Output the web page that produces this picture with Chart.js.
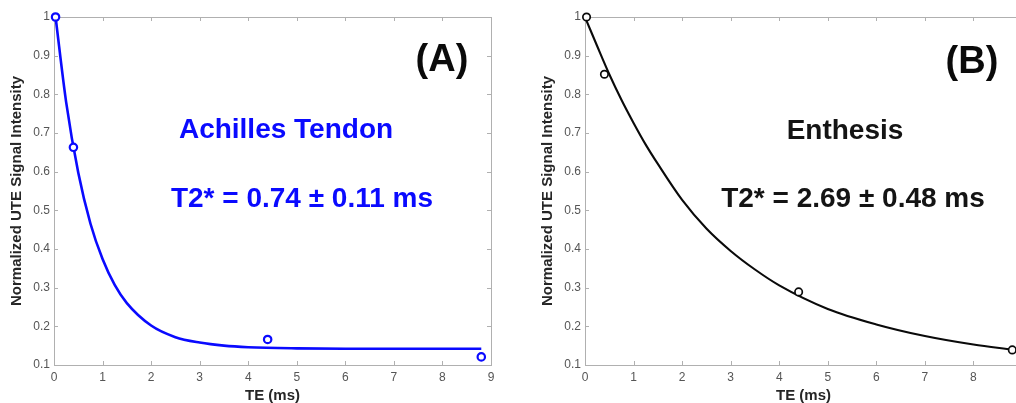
<!DOCTYPE html>
<html>
<head>
<meta charset="utf-8">
<script src="https://cdn.jsdelivr.net/npm/chart.js@4.4.0/dist/chart.umd.min.js"></script>
<style>
  html, body { margin: 0; padding: 0; background: #fff; overflow: hidden; width: 1016px; height: 403px; }
  .panel { position: absolute; top: 0; width: 549px; height: 403px; }
</style>
</head>
<body>
<div class="panel" style="left:0"><canvas id="chartA" width="549" height="403"></canvas></div>
<div class="panel" style="left:531px"><canvas id="chartB" width="549" height="403"></canvas></div>
<script>
// measured echo times (ms) and normalised signal
const teMeasured = [0.032, 0.4, 4.4, 8.8];
const tendonSignal = [1.0, 0.663, 0.166, 0.121];
const enthesisSignal = [1.0, 0.852, 0.289, 0.139];

// fitted decay curves
const teFit = [0.032, 0.25, 0.5, 0.75, 1, 1.25, 1.5, 2, 2.5, 3, 3.5, 4, 5, 6, 7, 8, 8.8];
const tendonFit = [1.0, 0.78, 0.597, 0.466, 0.374, 0.307, 0.26, 0.202, 0.172, 0.158, 0.15, 0.146, 0.143, 0.142, 0.142, 0.142, 0.142];
const enthesisFit = [0.99, 0.925, 0.852, 0.786, 0.726, 0.67, 0.62, 0.527, 0.453, 0.395, 0.347, 0.306, 0.245, 0.205, 0.175, 0.153, 0.14];

const xRange = [0, 9];
const yRange = [0.1, 1];

const FONT = "'Liberation Sans', Arial, sans-serif";
const axisColor = '#b0b0b0';
const tickColor = '#555555';

function toPoints(xs, ys) {
    return xs.map((x, i) => ({ x: x, y: ys[i] }));
}

// MATLAB style box with inward ticks
const boxPlugin = {
    id: 'box',
    beforeDatasetsDraw(chart) {
        const { ctx, chartArea: a, scales: { x, y } } = chart;
        const len = 4;
        ctx.save();
        ctx.strokeStyle = axisColor;
        ctx.lineWidth = 1;
        ctx.strokeRect(a.left + 0.5, a.top + 0.5, a.right - a.left, a.bottom - a.top);
        ctx.beginPath();
        x.ticks.forEach(t => {
            const px = Math.round(x.getPixelForValue(t.value)) + 0.5;
            ctx.moveTo(px, a.bottom); ctx.lineTo(px, a.bottom - len);
            ctx.moveTo(px, a.top); ctx.lineTo(px, a.top + len);
        });
        y.ticks.forEach(t => {
            const py = Math.round(y.getPixelForValue(t.value)) + 0.5;
            ctx.moveTo(a.left, py); ctx.lineTo(a.left + len, py);
            ctx.moveTo(a.right, py); ctx.lineTo(a.right - len, py);
        });
        ctx.stroke();
        ctx.restore();
    }
};

const labelPlugin = {
    id: 'labels',
    afterDraw(chart, args, opts) {
        const ctx = chart.ctx;
        ctx.save();
        ctx.textAlign = 'center';
        ctx.textBaseline = 'alphabetic';
        (opts.items || []).forEach(it => {
            ctx.fillStyle = it.color;
            ctx.font = 'bold ' + it.size + 'px ' + FONT;
            ctx.fillText(it.text, it.x, it.y);
        });
        ctx.restore();
    }
};

function makeChart(id, measured, fit, color, lineWidth, markerBorder, labels) {
    const ctx = document.getElementById(id).getContext('2d');
    return new Chart(ctx, {
        type: 'line',
        data: {
            datasets: [
                {
                    label: 'Measured',
                    data: toPoints(teMeasured, measured),
                    showLine: false,
                    pointRadius: 3.7,
                    pointBorderWidth: markerBorder,
                    pointBorderColor: color,
                    pointBackgroundColor: '#fff',
                    clip: false
                },
                {
                    label: 'Fit',
                    data: toPoints(teFit, fit),
                    borderColor: color,
                    borderWidth: lineWidth,
                    pointRadius: 0,
                    cubicInterpolationMode: 'monotone',
                    fill: false,
                    clip: false
                }
            ]
        },
        options: {
            responsive: false,
            animation: false,
            layout: { padding: { top: 17, right: 58, left: 0, bottom: 0 } },
            scales: {
                x: {
                    type: 'linear',
                    min: xRange[0],
                    max: xRange[1],
                    afterFit: s => { s.height = 38; },
                    ticks: { stepSize: 1, color: tickColor, padding: 5, font: { size: 12, family: FONT } },
                    grid: { display: false, drawTicks: false },
                    border: { display: false },
                    title: {
                        display: true,
                        text: 'TE (ms)',
                        color: '#262626',
                        padding: { top: 0, bottom: 0 },
                        font: { size: 15, weight: 'bold', family: FONT, lineHeight: 1 }
                    }
                },
                y: {
                    min: yRange[0],
                    max: yRange[1],
                    afterFit: s => { s.width = 54; },
                    ticks: {
                        stepSize: 0.1,
                        color: tickColor,
                        padding: 4,
                        font: { size: 12, family: FONT },
                        callback: v => Number(v.toFixed(1)).toString()
                    },
                    grid: { display: false, drawTicks: false },
                    border: { display: false },
                    title: {
                        display: true,
                        text: 'Normalized UTE Signal Intensity',
                        color: '#262626',
                        padding: { top: 8, bottom: 0 },
                        font: { size: 15, weight: 'bold', family: FONT, lineHeight: 1.2 }
                    }
                }
            },
            plugins: {
                legend: { display: false },
                tooltip: { enabled: false },
                labels: { items: labels }
            }
        },
        plugins: [boxPlugin, labelPlugin]
    });
}

makeChart('chartA', tendonSignal, tendonFit, '#0a0aff', 2.6, 2.2, [
    { text: '(A)', x: 442, y: 71, size: 38, color: '#0a0a0a' },
    { text: 'Achilles Tendon', x: 286, y: 138, size: 28, color: '#0a0aff' },
    { text: 'T2* = 0.74 \u00b1 0.11 ms', x: 302, y: 207, size: 28, color: '#0a0aff' }
]);

makeChart('chartB', enthesisSignal, enthesisFit, '#0a0a0a', 2.1, 1.7, [
    { text: '(B)', x: 441, y: 73, size: 38, color: '#0a0a0a' },
    { text: 'Enthesis', x: 314, y: 139, size: 28, color: '#141414' },
    { text: 'T2* = 2.69 \u00b1 0.48 ms', x: 322, y: 207, size: 28, color: '#141414' }
]);
</script>
</body>
</html>
